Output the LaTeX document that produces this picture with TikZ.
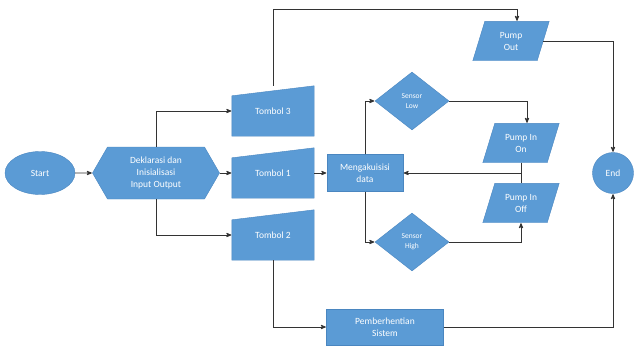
\documentclass[tikz,border=0pt]{standalone}
\usepackage{fontspec}
\setmainfont{Carlito}
\usepackage{tikz}
\usetikzlibrary{arrows,shapes.geometric,shapes.symbols,backgrounds}
\definecolor{flowblue}{HTML}{5B9BD5}
\definecolor{flowedge}{HTML}{4A86C0}
\definecolor{flowline}{HTML}{333333}

\begin{document}
\begin{tikzpicture}[x=1pt, y=1pt, node distance=100pt, inner sep=0pt, font=\fontsize{9.5}{12}\selectfont]
    \tikzstyle{blok}=[fill=flowblue, draw=flowedge, line width=0.4pt, text=white, align=center]
    \tikzstyle{term}=[blok, ellipse, minimum width=70pt, minimum height=43pt]
    \tikzstyle{prep}=[blok, signal, signal to=west and east, signal pointer angle=120, minimum width=127pt, minimum height=52pt]
    \tikzstyle{tombol}=[rectangle, text=white, align=center, minimum width=82pt, minimum height=50pt]
    \tikzstyle{proses}=[blok, rectangle, minimum width=76pt, minimum height=37pt]
    \tikzstyle{cek}=[blok, diamond, minimum width=74pt, minimum height=58pt, font=\fontsize{7.5}{10}\selectfont]
    \tikzstyle{io}=[rectangle, text=white, align=center, minimum width=76pt, minimum height=39pt]
    \tikzstyle{bg}=[fill=flowblue, draw=flowedge, line width=0.4pt]
    \tikzstyle{alur}=[->, draw=flowline, shorten >=0.5pt, >=stealth', line width=0.8pt]
    \tikzstyle{garis}=[draw=flowline, line width=0.8pt]

    \useasboundingbox (0,0) rectangle (634,-351);

    \node[term] (start) at (40,-173) {Start};
    \node[prep] (dekl) [right of=start, node distance=116pt] {Deklarasi dan\\Inisialisasi\\Input Output};
    \node[tombol] (t1) [right of=dekl, node distance=117pt] {\\[-4pt]Tombol 1};
    \node[tombol] (t3) [above of=t1, node distance=62pt] {\\[-4pt]Tombol 3};
    \node[tombol] (t2) [below of=t1, node distance=62pt] {\\[-4pt]Tombol 2};
    \node[proses] (meng) [right of=t1, node distance=92pt] {Mengakuisisi\\data};
    \node[cek] (slow) [above of=meng, node distance=72pt, xshift=47pt] {Sensor\\Low};
    \node[cek] (shigh) [below of=meng, node distance=69pt, xshift=47pt] {Sensor\\High};
    \node[io] (pinon) [right of=meng, node distance=156pt, yshift=30pt] {Pump In\\On};
    \node[io] (pinoff) [below of=pinon, node distance=60pt] {Pump In\\Off};
    \node[io] (pout) [above of=pinon, node distance=102pt, xshift=-10pt] {Pump\\Out};
    \node[proses, minimum width=117pt, minimum height=36pt] (stop) [below of=meng, node distance=154pt, xshift=20pt] {Pemberhentian\\Sistem};
    \node[blok, circle, minimum size=41pt] (end) [right of=meng, node distance=248pt] {End};

    % manual input and data shapes
    \begin{pgfonlayer}{background}
        \foreach \t in {t1,t2,t3}
            \filldraw[bg] (\t.south west) -- (\t.south east) -- (\t.north east) -- ([yshift=-10pt]\t.north west) -- cycle;
        \foreach \d in {pinon,pinoff,pout}
            \filldraw[bg] (\d.south west) -- ([xshift=-12pt]\d.south east) -- (\d.north east) -- ([xshift=12pt]\d.north west) -- cycle;
    \end{pgfonlayer}

    \draw[alur] (start) to (dekl);
    \draw[alur] (dekl.east) to (t1.west);
    \draw[alur] (dekl.north) |- (t3.west);
    \draw[alur] (dekl.south) |- (t2.west);
    \draw[alur] (t1.east) to (meng.west);
    \draw[alur] (t3.north) -- ++(0,76) -| ([xshift=6pt]pout.north);
    \draw[alur] ([xshift=-6pt]pout.east) -| (end.north);
    \draw[alur] (meng.north) |- (slow.west);
    \draw[alur] (meng.south) |- (shigh.west);
    \draw[alur] (slow.east) -| ([xshift=6pt]pinon.north);
    \draw[alur] (shigh.east) -| (pinoff.south);
    \draw[garis] (pinon.south) -- (pinoff.north);
    \draw[alur] (pinon.south) |- (meng.east);
    \draw[alur] (t2.south) |- (stop.west);
    \draw[alur] (stop.east) -| (end.south);
\end{tikzpicture}
\end{document}
